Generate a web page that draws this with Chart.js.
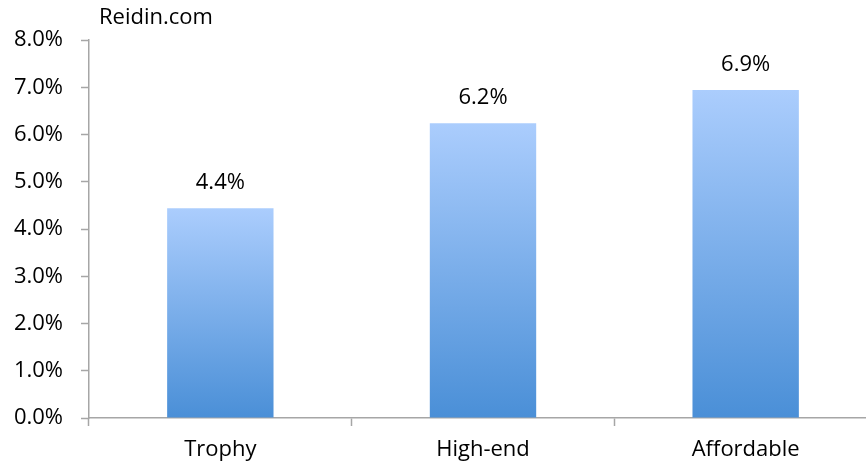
<!DOCTYPE html>
<html>
<head>
<meta charset="utf-8">
<script src="https://cdn.jsdelivr.net/npm/chart.js@4/dist/chart.umd.min.js"></script>
<style>
  html, body { margin: 0; padding: 0; background: #fff; overflow: hidden; }
  #wrap { width: 880px; height: 465px; }
</style>
</head>
<body>
<div id="wrap"><canvas id="reidinChart" width="880" height="465"></canvas></div>
<script>
// Chart data
const categories = ['Trophy', 'High-end', 'Affordable'];
const growthValues = [4.44, 6.24, 6.94];
const yTicks = [0, 1, 2, 3, 4, 5, 6, 7, 8];
const sourceNote = 'Reidin.com';

const axisGrey = '#a6a6a6';
const fontFamily = '"Open Sans", "Liberation Sans", sans-serif';

// Value labels above each bar + source note
const labelPlugin = {
  id: 'barLabels',
  afterDatasetsDraw(chart) {
    const ctx = chart.ctx;
    const meta = chart.getDatasetMeta(0);
    ctx.save();
    ctx.fillStyle = '#000';
    ctx.font = '22px ' + fontFamily;
    ctx.textAlign = 'center';
    ctx.textBaseline = 'middle';
    meta.data.forEach(function(bar, i) {
      ctx.fillText(growthValues[i].toFixed(1) + '%', bar.x, bar.y - 25);
    });
    ctx.textAlign = 'left';
    ctx.fillText(sourceNote, 99, 18);
    ctx.restore();
  }
};

// each bar gets its own light-top / dark-bottom gradient
function barGradient(context) {
  const chart = context.chart;
  if (!chart.chartArea || context.raw == null) return '#7fb0ee';
  const yScale = chart.scales.y;
  const top = yScale.getPixelForValue(context.raw);
  const bottom = yScale.getPixelForValue(0);
  const g = chart.ctx.createLinearGradient(0, top, 0, bottom);
  g.addColorStop(0, '#abcdfd');
  g.addColorStop(1, '#4a8fd7');
  return g;
}

new Chart(document.getElementById('reidinChart'), {
  type: 'bar',
  data: {
    labels: categories,
    datasets: [{
      data: growthValues,
      backgroundColor: barGradient,
      borderWidth: 0,
      barPercentage: 0.405,
      categoryPercentage: 1
    }]
  },
  options: {
    responsive: false,
    animation: false,
    layout: { padding: { top: 40, right: 3, left: 0, bottom: 0 } },
    plugins: { legend: { display: false }, tooltip: { enabled: false } },
    scales: {
      x: {
        grid: { display: true, drawOnChartArea: false, color: axisGrey, tickLength: 8, tickWidth: 1.5 },
        border: { color: axisGrey, width: 1.5 },
        ticks: { color: '#000', font: { family: fontFamily, size: 22 }, padding: 11 },
        afterFit(scale) { scale.height = 47; }
      },
      y: {
        min: 0,
        max: 8,
        afterBuildTicks(scale) { scale.ticks = yTicks.map(v => ({ value: v })); },
        grid: { display: true, drawOnChartArea: false, color: axisGrey, tickLength: 8, tickWidth: 1.5 },
        border: { color: axisGrey, width: 1.5 },
        ticks: {
          color: '#000',
          font: { family: fontFamily, size: 22 },
          padding: 18,
          callback: v => v.toFixed(1) + '%'
        },
        afterFit(scale) { scale.width = 89; }
      }
    }
  },
  plugins: [labelPlugin]
});
</script>
</body>
</html>
